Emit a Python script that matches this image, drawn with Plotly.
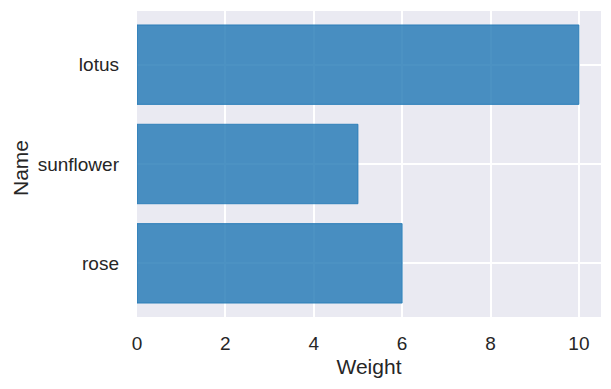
import plotly.graph_objects as go

names = ["rose", "sunflower", "lotus"]
weights = [6, 5, 10]
x_ticks = [0, 2, 4, 6, 8, 10]

fig = go.Figure(go.Bar(
    x=weights, y=names, orientation="h", width=0.8,
    marker=dict(color="rgba(31,119,180,0.8)", line=dict(color="rgba(31,119,180,0.8)", width=1)),
))

font_family = "Liberation Sans, Arial, sans-serif"
fig.update_layout(
    width=603, height=381,
    margin=dict(l=129, r=10, t=3, b=72, autoexpand=False),
    paper_bgcolor="white", plot_bgcolor="#EAEAF2",
    font=dict(family=font_family, size=19, color="#262626"),
    showlegend=False,
)
fig.update_xaxes(
    range=[0, 10.5], tickvals=x_ticks, ticktext=[str(v) for v in x_ticks],
    showgrid=True, gridcolor="white", gridwidth=1.5, zeroline=False, showline=False,
    ticks="", tickfont=dict(size=19), ticklabelstandoff=13, automargin=False,
    title=dict(text="Weight", font=dict(size=21), standoff=6),
)
fig.update_yaxes(
    range=[-0.54, 2.54], categoryorder="array", categoryarray=names,
    showgrid=True, gridcolor="white", gridwidth=1.5, zeroline=False, showline=False,
    ticks="", tickfont=dict(size=19), ticklabelstandoff=17, automargin=False,
)
fig.add_annotation(
    text="Name", textangle=-90, showarrow=False,
    xref="paper", yref="paper", x=(13 - 129) / 464, y=0.487,
    xanchor="center", yanchor="middle", font=dict(size=21),
)

fig.write_html("out.html")
